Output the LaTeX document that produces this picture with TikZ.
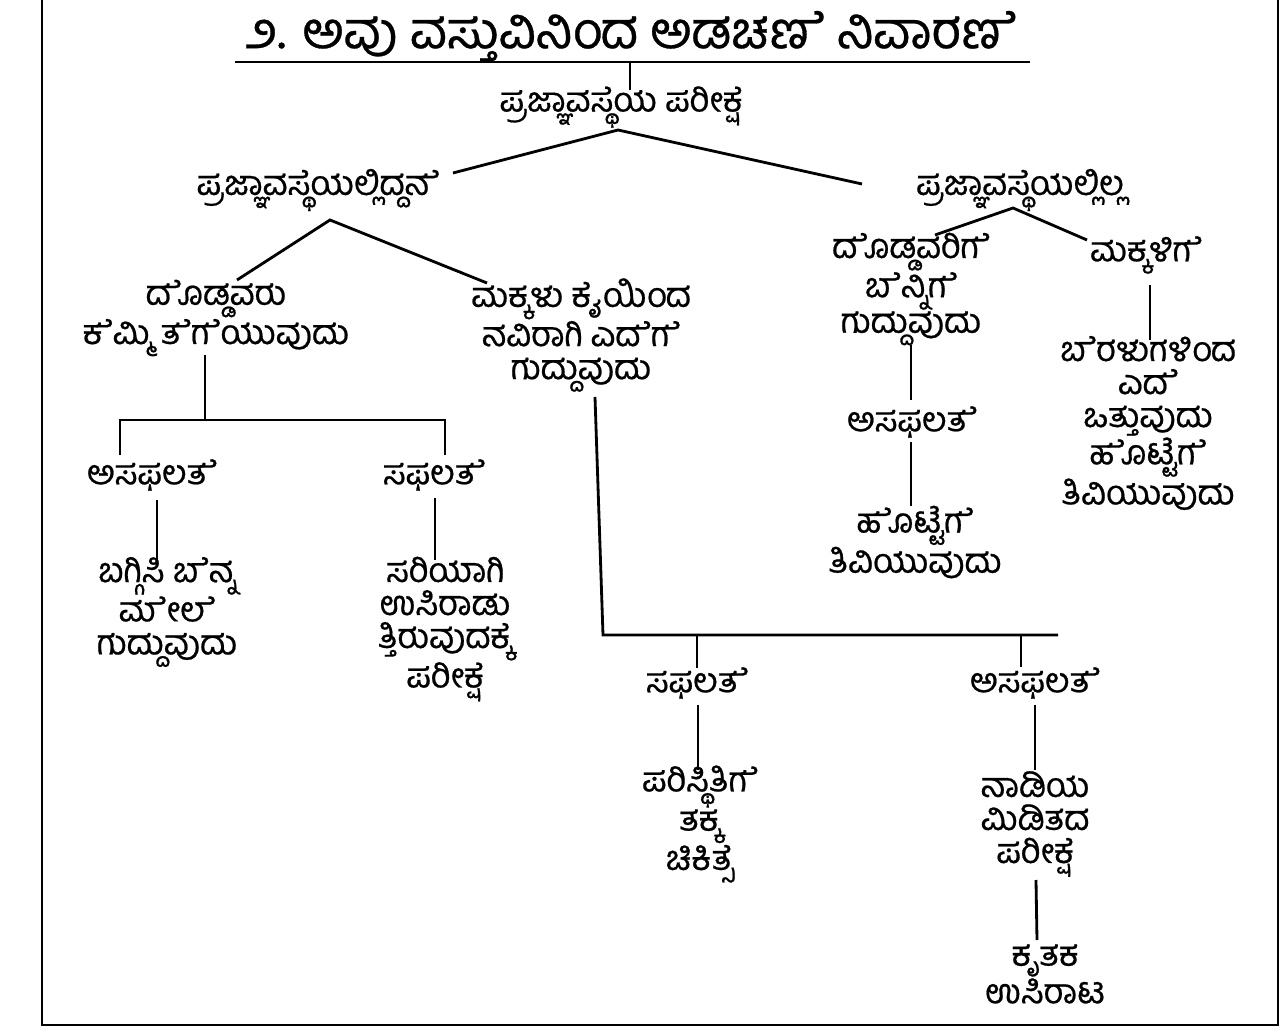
\documentclass[tikz,border=0pt]{standalone}
\usepackage{fontspec}
\newfontfamily\kanfont[Script=Kannada,FakeBold=0.6]{Hind Mysuru}
\newcommand\zw{^^^^200d}
\newcommand\zn{^^^^200c}
\usetikzlibrary{positioning,calc}

\tikzset{
  lbl/.style={font={\kanfont\fontsize{19.5}{18.8}\selectfont},align=center,inner sep=1pt},
  ttl/.style={font={\kanfont\fontsize{29}{30}\selectfont},inner sep=0pt},
  conn/.style={line width=1.6pt},
}

\begin{document}
\begin{tikzpicture}[x=0.02cm,y=-0.02cm]
   \useasboundingbox (0,0) rectangle (1286,1030);
   \draw[line width=1.3pt] (42,0) -- (42,1025) -- (1278,1025) -- (1278,0);

   % heading
   \node[ttl] (title) at (631,36) {೨. ಅವು ವಸ್ತುವಿನಿಂದ ಅಡಚಣ\zw ೆ ನಿವಾರಣ\zw ೆ};
   \coordinate (ulL) at (235,62);
   \coordinate (ulR) at (1030,62);
   \coordinate (ulM) at (630,62);
   \node[lbl] (test) at (621,107) {ಪ್ರಜ್ಞಾವಸ್ಥ\zn ೆಯ ಪರೀಕ್ಷ\zn ೆ};

   \node[lbl] (yes) at (318,190) {ಪ್ರಜ್ಞಾವಸ್ಥ\zn ೆಯಲ್ಲಿದ್ದನ\zw ೆ};
   \node[lbl] (no) at (1020,190) {ಪ್ರಜ್ಞಾವಸ್ಥ\zn ೆಯಲ್ಲಿಲ್ಲ};

   % conscious
   \node[lbl] (cough) at (216,318) {ದ\zw ೊಡ್ಡವರು\\ಕ\zw ೆಮ್ಮಿ ತ\zw ೆಗ\zw ೆಯುವುದು};
   \node[lbl] (tap) at (581,335) {ಮಕ್ಕಳು ಕೈಯಿಂದ\\ನವಿರಾಗಿ ಎದ\zw ೆಗ\zw ೆ\\ಗುದ್ದುವುದು};
   \node[lbl] (fail1) at (152,475) {ಅಸಫಲತ\zw ೆ};
   \node[lbl] (ok1) at (434,475) {ಸಫಲತ\zw ೆ};
   \node[lbl] (back) at (167,612) {ಬಗ್ಗಿಸಿ ಬ\zw ೆನ್ನ\\ಮ\zw ೇಲ\zw ೆ\\ಗುದ್ದುವುದು};
   \node[lbl] (breath) at (445,629) {ಸರಿಯಾಗಿ\\ಉಸಿರಾಡು\\ತ್ತಿರುವುದಕ್ಕ\zn ೆ\\ಪರೀಕ್ಷ\zn ೆ};
   \node[lbl] (ok2) at (697,683) {ಸಫಲತ\zw ೆ};
   \node[lbl] (fail2) at (1035,683) {ಅಸಫಲತ\zw ೆ};
   \node[lbl] (treat) at (700,824) {ಪರಿಸ್ಥಿತಿಗ\zw ೆ\\ತಕ್ಕ\\ಚಿಕಿತ್ಸ\zn ೆ};
   \node[lbl] (pulse) at (1035,824) {ನಾಡಿಯ\\ಮಿಡಿತದ\\ಪರೀಕ್ಷ\zn ೆ};
   \node[lbl] (cpr) at (1045,974) {ಕೃತಕ\\ಉಸಿರಾಟ};

   % unconscious
   \node[lbl] (adult) at (911,289) {ದ\zw ೊಡ್ಡವರಿಗ\zw ೆ\\ಬ\zw ೆನ್ನಿಗ\zw ೆ\\ಗುದ್ದುವುದು};
   \node[lbl] (kids) at (1146,255) {ಮಕ್ಕಳಿಗ\zw ೆ};
   \node[lbl] (fail3) at (912,422) {ಅಸಫಲತ\zw ೆ};
   \node[lbl] (stab1) at (915,542) {ಹ\zw ೊಟ್ಟ\zn ೆಗ\zw ೆ\\ತಿವಿಯುವುದು};
   \node[lbl] (press) at (1148,423) {ಬ\zw ೆರಳುಗಳಿಂದ\\ಎದ\zw ೆ\\ಒತ್ತುವುದು\\ಹ\zw ೊಟ್ಟ\zn ೆಗ\zw ೆ\\ತಿವಿಯುವುದು};

   % joints
   \coordinate (r1) at (618,130);
   \coordinate (r1a) at (453,173);
   \coordinate (r1b) at (862,184);
   \coordinate (r2) at (330,220);
   \coordinate (r2a) at (237,280);
   \coordinate (r2b) at (487,283);
   \coordinate (r3) at (1013,208);
   \coordinate (r3a) at (935,235);
   \coordinate (r3b) at (1087,240);
   \coordinate (s1) at (205,420);
   \coordinate (s2) at (603,635);

   \draw[conn] (ulL) -- (ulR);
   \draw[conn] (ulM) -- (ulM |- 0,90);
   \draw[conn] (r1a) -- (r1) -- (r1b);
   \draw[conn] (r2a) -- (r2) -- (r2b);
   \draw[conn] (r3a) -- (r3) -- (r3b);

   \draw[conn] (s1 |- 0,355) -- (s1);
   \draw[conn] (120,455) -- (120,420) -- (445,420) -- (445,455);
   \draw[conn] (157,500) -- (157,560);
   \draw[conn] (435,498) -- (435,560);

   \draw[conn] (595,397) -- (s2) -- (1058,635);
   \draw[conn] (697,635) -- (697,668);
   \draw[conn] (1021,635) -- (1021,667);
   \draw[conn] (698,705) -- (698,770);
   \draw[conn] (1035,705) -- (1035,770);
   \draw[conn] (1036,880) -- (1037,940);

   \draw[conn] (911,345) -- (911,400);
   \draw[conn] (911,442) -- (911,506);
   \draw[conn] (1150,285) -- (1150,340);
\end{tikzpicture}
\end{document}
